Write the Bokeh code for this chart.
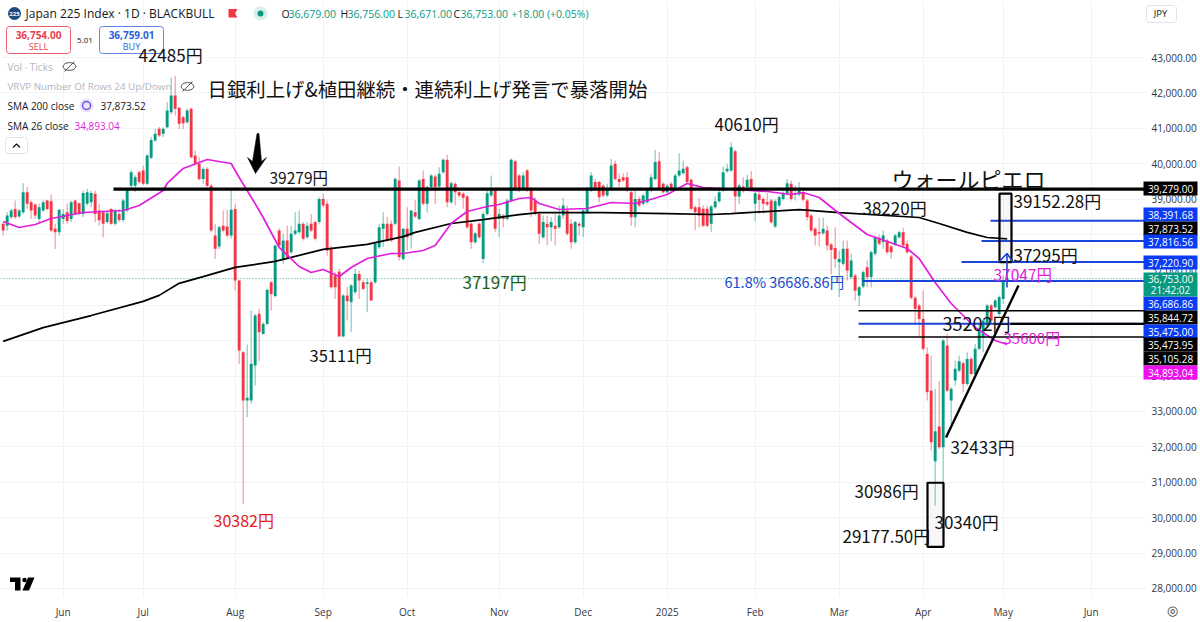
from bokeh.plotting import figure
from bokeh.embed import file_html
from bokeh.resources import INLINE
from bokeh.models import Range1d, FixedTicker, NumeralTickFormatter, Label, BoxAnnotation
from bokeh.core.properties import value

opens = [38300,38250,38490,38720,38510,38630,39195,38910,38850,38440,
38680,38960,38940,38160,38065,38440,38630,38440,38960,38880,
38580,38870,38910,39150,38680,38630,38350,38720,38300,38580,
38410,38680,39380,39380,39760,39810,39430,40165,40655,40985,
40845,41030,41455,41925,41580,41310,41170,41550,40230,39995,
39570,39850,39380,37970,37660,38250,38225,37970,38720,36700,
34675,33310,33310,34300,35760,35190,35475,36650,36260,38110,
37310,37830,37500,38020,38065,38300,37925,38300,38350,38350,
39005,38865,37595,36840,36950,35120,36275,36090,36370,36885,
36650,36605,36650,36650,37640,38160,38300,38300,38300,39525,
37310,38160,37970,38630,38440,39570,38865,39340,39640,39355,
39760,40110,38910,39430,39195,39150,39070,38300,37780,38300,
37310,38580,39100,39240,38440,38535,38440,38960,40070,39665,
39290,39805,39290,38960,38580,37925,38300,38205,38250,38205,
38535,38680,38300,37780,38300,38205,38630,39240,39480,39480,
39380,39100,39290,39995,39570,39620,39620,39195,38490,39005,
38865,38910,39240,39570,40070,39430,39195,39430,39290,39665,
39730,39900,39545,38770,38770,38725,38725,38300,38770,38940,
39240,39790,39810,40355,39075,39355,39335,39570,38865,39130,
39005,38915,38960,38225,38820,39005,39150,39430,39130,39130,
39195,38960,38535,38160,38065,38035,38110,37715,37620,37215,
37170,37595,36795,36840,36275,36530,37075,36795,37455,37905,
37785,37830,37660,37715,37925,38065,37735,37380,36210,35995,
35615,34625,33590,31595,32575,31990,34860,33310,33875,34155,
34365,33780,34485,34060,34770,35100,35430,35995,35945,35755,
36180,36679]
highs = [38350,38630,38720,38960,38720,39450,39340,38960,38880,38870,
38960,38980,39130,38300,38725,38720,38870,38960,38980,38900,
39240,39290,39240,39240,38870,38680,38680,38750,38720,38720,
39010,39290,39810,39670,39810,39950,40280,40750,40985,41040,
41030,41740,42440,42485,41600,41360,41550,41580,40370,40185,
39900,39900,39430,38300,38250,38680,38700,39240,38870,36720,
34700,34890,35850,35760,35900,35520,36465,36680,37700,38170,
38020,38250,38250,38630,38680,38350,38350,38580,38400,39050,
39150,38960,37690,36935,37030,36320,36510,36600,37030,36980,
36720,36745,36700,37780,38300,38630,38490,38400,39620,39920,
38170,38770,38680,38980,39570,39810,39380,39700,39690,39900,
40150,40250,39500,39480,39240,39195,39120,38350,38065,38350,
38630,39240,39665,39290,38725,38580,39010,40150,40110,39710,
39760,39850,39340,39050,38630,38535,38535,38490,38580,38820,
39035,38820,38440,38395,38350,38725,39355,39760,39570,39525,
39430,39430,40135,40090,39715,39730,39760,39240,39240,39070,
39150,39290,39715,40390,40325,39480,39430,39480,39715,40295,
40090,39950,39590,38820,39035,38820,38820,38840,39075,39320,
39920,39995,40610,40400,39430,39620,39695,39790,39215,39240,
39050,39165,39005,38990,39100,39215,39570,39525,39385,39480,
39240,39005,38580,38205,38470,38470,38255,37765,38205,37545,
37830,37830,37450,36890,36560,36980,37265,37545,37970,38000,
38110,37880,37710,38020,38110,38190,37830,37430,36260,36040,
36415,34815,34580,33640,33855,35050,35190,33685,34440,34580,
34410,34675,34530,34910,35475,35620,36040,36040,36180,36275,
36840,36756]
lows = [37970,38110,38440,38440,38470,38580,38720,38440,38440,38300,
38630,38680,38065,37590,37970,38300,38300,38350,38535,38540,
38490,38820,38770,38350,38250,37920,38300,38280,38250,38350,
38350,38630,39290,39195,39430,39400,39400,40130,40610,40750,
40750,41000,41400,41360,40980,40980,41125,40150,39950,39520,
39430,39340,38060,37310,37590,38060,37920,37880,36415,34345,
30382,32840,33215,33735,34420,35170,35430,35850,36230,37640,
37170,37310,37450,37970,38020,37830,37880,38065,37830,38300,
38770,37405,36465,36180,35111,35100,35570,35240,36320,36180,
36415,35805,36130,36600,37590,37640,37780,37780,38250,37265,
37260,37545,37595,38460,38395,38820,38620,39290,38860,39310,
39715,38770,38865,38820,39050,38725,38160,37595,37735,37875,
37197,38535,39050,38065,37925,38205,38395,38910,39240,39195,
39240,39195,38490,38535,37735,37875,37690,37810,37690,38160,
38440,37970,37595,37735,37970,37925,38580,39195,39240,38910,
39050,39050,39240,39525,39335,39480,39195,38250,38205,38770,
38820,38865,39195,39525,39240,39150,39150,39240,39240,39620,
39690,39430,38680,38130,38205,38205,38205,38065,38725,38895,
39195,39740,39760,38630,38865,39180,39290,39240,38375,38585,
38585,38800,38300,38180,38770,38960,39100,38960,38960,39080,
38930,38395,38065,37690,37660,37990,37545,36870,37055,36230,
37120,36700,36750,36135,35965,36480,36510,36510,37405,37690,
37595,37455,37310,37670,37880,37640,37455,36165,35475,35100,
34720,33310,31895,30340,31940,30986,33545,32650,33730,34110,
33545,33730,34015,34015,34720,34675,35380,35520,35900,35710,
36040,36671]
closes = [38110,38540,38680,38490,38680,39195,38870,38680,38540,38770,
38910,38720,38110,38065,38700,38580,38380,38910,38580,38580,
39170,39195,39170,38580,38400,38300,38600,38300,38680,38410,
38960,39240,39760,39620,39480,39430,40230,40670,40845,40800,
40985,41500,41925,41550,41125,41140,41500,40185,39995,39570,
39850,39380,38110,37595,38205,38110,37970,38700,36700,34720,
33310,33385,34345,35710,35240,35475,36435,36320,37690,37690,
37830,37360,38020,38110,38300,37880,38250,38110,37880,39005,
38820,37550,36510,36510,35120,36275,36115,36560,36885,36700,
36465,36650,36135,37735,38205,38300,37830,37830,39570,37360,
38160,37925,38680,38510,39525,38865,39340,39670,39340,39715,
40110,38910,39450,39195,39100,39035,38205,37780,38035,37925,
38580,39165,39240,38160,38580,38440,38960,40110,39290,39290,
39665,39240,38680,38580,38020,38350,38205,38350,38160,38535,
38820,38020,37780,38350,38250,38680,39290,39665,39290,39050,
39100,39290,39950,39570,39480,39525,39240,38490,39005,38820,
39100,39240,39620,40045,39290,39195,39380,39290,39665,39805,
39855,39480,38725,38630,38535,38250,38250,38790,38940,39195,
39760,39855,40465,39075,39385,39225,39545,39290,39165,38980,
38865,38850,38345,38940,39055,39165,39450,39005,39165,39240,
38980,38490,38110,37970,38020,38160,37690,37565,37310,37310,
37595,36980,37265,36415,36510,36935,36795,37500,37925,37735,
37970,37500,37500,37970,38065,37690,37500,36210,35900,35615,
34770,33545,32130,32440,31990,35005,33590,33640,34205,34420,
33780,34485,34060,34770,35285,35570,35995,35570,36135,36230,
36680,36753]

sma200_bar = [0,10,22,35,39,44,50,58,68,80,91,100,103,112,120,129,134,150,166,177,182,199,209,229,234,241,246,251]
sma200_val = [34980,35370,35710,36110,36280,36620,36810,37070,37240,37580,37720,37940,38060,38310,38420,38560,38620,38620,38590,38565,38590,38700,38620,38480,38310,38060,37915,37873.52]
sma26_bar = [0,4,8,12,20,30,34,40,41,45,51,57,59,61,64,65,69,74,77,80,84,87,91,97,100,105,108,112,116,121,124,129,132,134,139,146,152,158,161,166,171,175,183,191,197,200,204,209,216,226,229,233,237,243,248,251]
sma26_val = [38367,38198,38282,38452,38621,38678,38819,39243,39441,39865,40119,40006,39610,39243,38678,38480,37633,37096,36926,37011,36813,37068,37322,37463,37463,37548,37689,38311,38650,38791,38847,39017,39045,38876,38706,38734,38904,38876,38960,39130,39440,39328,39272,39215,39130,39186,39045,38593,38000,37604,37322,36644,36050,35372,35005,34893.04]

month_bars = [15,35,58,80,101,124,145,166,188,209,230,250,272]
month_labels = ["Jun","Jul","Aug","Sep","Oct","Nov","Dec","2025","Feb","Mar","Apr","May","Jun"]
price_ticks = list(range(28000, 44000, 1000))

level_prices = [38391.68,37816.56,37220.90,36686.86,35475.00,35844.72,35473.95,35105.28]
level_start_px = [990,981,961,862,858,858,1010,858]
level_colors = ["#1a45d8"]*5 + ["#000000"]*3
level_widths = [2,2,2,2,2,1.6,2.4,1.6]

tag_text = ["39,279.00","38,391.68","37,873.52","37,816.56","37,220.90","36,686.86","35,844.72","35,475.00","35,473.95","35,105.28","34,893.04"]
tag_bg = ["#000000","#0a3cf5","#000000","#0a3cf5","#0a3cf5","#0a3cf5","#000000","#0a3cf5","#000000","#000000","#ee10ee"]
tag_py = [188,214,228,241,262,303,317,331,344,358,372]

notes = ["42485円","日銀利上げ&植田継続・連続利上げ発言で暴落開始","39279円","40610円","35111円","37197円","30382円","61.8% 36686.86円","38220円","ウォールピエロ","39152.28円","37295円","37047円","35202円","35600円","32433円","30986円","30340円","29177.50円"]
note_px = [138,207,269,714,309,462,213,724,862,891,1013,1013,993,942,1003,950,854,934,842]
note_py = [54,88,176,123,354,281,519,281,207,177,200,254,273,322,337,446,490,521,535]
note_size = ["17px","19.4px","15.5px","17px","16.5px","17px","16px","14.5px","17px","22px","17px","17px","15.5px","18px","15px","17px","17px","17px","17px"]
note_color = ["#111111","#111111","#111111","#111111","#111111","#1b5e20","#e01b24","#1848cc","#111111","#111111","#111111","#111111","#e020d8","#111111","#e020d8","#111111","#111111","#111111","#111111"]

def bar_at(px):
    return (px - 2.67) / 4.0
def price_at(py):
    return 43000 - (py - 57) * 28.25

UI = "Open Sans"
PANE_R = 1145
PANE_B = 597
p = figure(width=1200, height=622, output_backend="svg", toolbar_location=None,
           x_range=Range1d(bar_at(0), bar_at(1200)), y_range=Range1d(price_at(622), price_at(0)),
           y_axis_location="right", min_border_left=0, min_border_top=0, min_border_right=0, min_border_bottom=0,
           background_fill_color="#ffffff", outline_line_color=None)
p.xaxis.ticker = FixedTicker(ticks=month_bars)
p.xaxis.major_label_overrides = dict(zip(month_bars, month_labels))
p.yaxis.ticker = FixedTicker(ticks=price_ticks)
p.yaxis.formatter = NumeralTickFormatter(format="0,0.00")
p.xaxis[0].fixed_location = price_at(PANE_B)
p.yaxis[0].fixed_location = bar_at(PANE_R)
for ax in (p.xaxis[0], p.yaxis[0]):
    ax.axis_line_color = None
    ax.major_tick_line_color = None
    ax.minor_tick_line_color = None
    ax.major_tick_in = 0
    ax.major_tick_out = 0
    ax.minor_tick_in = 0
    ax.minor_tick_out = 0
    ax.major_label_text_font = UI
    ax.major_label_text_font_size = "10px"
    ax.major_label_text_color = "#33363f"
p.xaxis.major_label_standoff = 7
p.yaxis.major_label_standoff = 6
p.xgrid.grid_line_color = "#f0f3f8"
p.ygrid.grid_line_color = "#f0f3f8"

# white scale strips over the grid
p.quad(left=[bar_at(PANE_R), bar_at(0)], right=[bar_at(1200), bar_at(1200)], top=[price_at(0), price_at(PANE_B)],
       bottom=[price_at(622), price_at(622)], fill_color="#ffffff", line_color=None)

bars = list(range(len(closes)))
up = [c >= o for o, c in zip(opens, closes)]
cols = ["#089981" if u else "#f23645" for u in up]
p.segment(bars, lows, bars, highs, line_color=cols, line_width=1, line_alpha=0.6)
p.vbar(x=bars, top=[max(o, c) for o, c in zip(opens, closes)], bottom=[min(o, c) for o, c in zip(opens, closes)],
       width=0.72, fill_color=cols, line_color=None)

p.segment([bar_at(0)], [closes[-1]], [bar_at(PANE_R)], [closes[-1]], line_color="#089981", line_dash="1 2", line_width=1, line_alpha=0.8)

p.line(sma200_bar, sma200_val, line_color="#000000", line_width=1.7)
p.line(sma26_bar, sma26_val, line_color="#e01fdc", line_width=1.7)

p.segment([bar_at(113)], [39279], [bar_at(PANE_R)], [39279], line_color="#000000", line_width=3.2)
p.segment([bar_at(x) for x in level_start_px], level_prices, [bar_at(PANE_R)] * len(level_prices), level_prices,
          line_color=level_colors, line_width=level_widths)

box_left = [bar_at(999), bar_at(927)]
box_right = [bar_at(1011), bar_at(943)]
box_top = [39152.28, 30986]
box_bottom = [37220.90, 29177.50]
p.quad(left=box_left, right=box_right, top=box_top, bottom=box_bottom, fill_color="#9598a1", fill_alpha=0.08,
       line_color="#000000", line_width=2.2)

p.segment([bar_at(945.5)], [price_at(437)], [bar_at(1018)], [price_at(285)], line_color="#000000", line_width=2.4)

# blue arrow
p.line([bar_at(1006.5)] * 2, [price_at(287), price_at(253)], line_color="#1a45d8", line_width=1.6)
p.line([bar_at(998), bar_at(1006.5), bar_at(1013)], [price_at(262), price_at(253), price_at(262)], line_color="#1a45d8", line_width=1.6)

# black down arrow
arrow_px = [256.5, 258.5, 261, 266, 255, 247, 252]
arrow_py = [133, 133, 161, 157, 173, 157, 161]
p.patch([bar_at(x) for x in arrow_px], [price_at(y) for y in arrow_py], fill_color="#000000", line_color="#000000", line_width=0.5)

# annotation texts
p.text([bar_at(x) for x in note_px], [price_at(y) for y in note_py], text=notes, text_font=value("Noto Sans CJK JP"),
       text_font_size=note_size, text_color=note_color, text_align="left", text_baseline="middle", level="overlay")

def label(text, px, py, size="10px", color="#131722", align="left", font=UI, style="normal"):
    p.add_layout(Label(x=bar_at(px), y=price_at(py), text=text, text_font_size=size, text_color=color,
                       text_align=align, text_baseline="middle", text_font=font, text_font_style=style))

def box(left, right, top, bottom, fill, line=None, radius=0):
    p.add_layout(BoxAnnotation(left=bar_at(left), right=bar_at(right), top=price_at(top), bottom=price_at(bottom),
                               fill_color=fill, fill_alpha=1.0, line_color=line, line_alpha=1.0 if line else 0,
                               line_width=1, border_radius=radius, level="annotation"))

# price tags on the axis
for t, bg, y in zip(tag_text, tag_bg, tag_py):
    box(1143, 1197, y - 7, y + 7, bg)
    label(t, 1170, y, size="10px", color="#ffffff", align="center")
box(1143, 1197, 272, 296, "#089981")
label("36,753.00", 1170, 278, size="10px", color="#ffffff", align="center")
label("21:42:02", 1170, 289.5, size="10px", color="#ffffff", align="center")

# header
p.scatter([bar_at(14)], [price_at(13)], size=13, marker="circle", fill_color="#1e4a7c", line_color=None)
label("225", 14, 13.5, size="6px", color="#ffffff", align="center", style="bold")
label("Japan 225 Index · 1D · BLACKBULL", 25, 13, size="12px")
p.patch([bar_at(x) for x in (228, 237, 234.5, 237, 228)], [price_at(y) for y in (8.5, 8.5, 13, 17, 17)], fill_color="#f23645", line_color=None)
p.scatter([bar_at(260)], [price_at(13)], size=14, marker="circle", fill_color="#d7f0ea", line_color=None)
p.scatter([bar_at(260)], [price_at(13)], size=6, marker="circle", fill_color="#089981", line_color=None)
ohlc_name = ["O", "H", "L", "C"]
ohlc_text = ["36,679.00", "36,756.00", "36,671.00", "36,753.00"]
ohlc_x = [281, 340, 397, 453]
for n, t, x in zip(ohlc_name, ohlc_text, ohlc_x):
    label(n, x, 13, size="10.5px")
    label(t, x + 7, 13, size="10.5px", color="#089981")
label("+18.00 (+0.05%)", 511, 13, size="10.5px", color="#089981")

box(6, 70, 26, 53, "#ffffff", line="#e8606c", radius=3)
label("36,754.00", 38, 34.5, size="10px", color="#e8404f", align="center", style="bold")
label("SELL", 38, 46, size="9px", color="#e8404f", align="center")
label("5.01", 84.5, 40, size="8px", align="center")
box(99, 163, 26, 53, "#ffffff", line="#5f86e8", radius=3)
label("36,759.01", 131, 34.5, size="10px", color="#2a62d8", align="center", style="bold")
label("BUY", 131, 46, size="9px", color="#2a62d8", align="center")

label("Vol · Ticks", 7, 66.5, size="10px", color="#b2b5be")
label("VRVP Number Of Rows 24 Up/Down", 7, 86, size="9.8px", color="#b2b5be")
label("SMA 200 close", 7, 105.5, size="10px")
label("37,873.52", 100, 105.5, size="10px")
label("SMA 26 close", 7, 125, size="10px")
label("34,893.04", 74, 125, size="10px", color="#e01fdc")
for ex, ey in ((69, 66), (187, 86)):
    p.ellipse([bar_at(ex)], [price_at(ey)], width=3.2, height=220, fill_color=None, line_color="#555555", line_width=1)
    p.segment([bar_at(ex - 5)], [price_at(ey + 5)], [bar_at(ex + 5)], [price_at(ey - 5)], line_color="#555555", line_width=1)
p.scatter([bar_at(86)], [price_at(105)], size=14, marker="circle", fill_color="#e9e3fb", line_color=None)
p.scatter([bar_at(86)], [price_at(105)], size=8, marker="circle", fill_color=None, line_color="#6f4fe8", line_width=1.5)
box(5, 27, 137, 153, "#ffffff", line="#e0e3eb", radius=3)
p.line([bar_at(12.5), bar_at(16), bar_at(19.5)], [price_at(147), price_at(143.5), price_at(147)], line_color="#131722", line_width=1.2, level="overlay")

box(1146, 1176, 5, 22, "#ffffff", line="#e0e3eb", radius=3)
label("JPY", 1160, 13, size="9.5px", align="center")

# logo
p.patch([bar_at(x) for x in (9.5, 20, 20, 14.5, 14.5, 9.5)], [price_at(y) for y in (577, 577, 590, 590, 581.5, 581.5)], fill_color="#000000", line_color=None)
p.patch([bar_at(x) for x in (27.5, 34, 28.5, 22)], [price_at(y) for y in (577, 577, 590, 590)], fill_color="#000000", line_color=None)
p.scatter([bar_at(24)], [price_at(579.5)], size=4.5, marker="circle", fill_color="#000000", line_color=None)

label("◎", 1172, 610, size="13px", color="#33363f", align="center", font="DejaVu Sans")

open("out.html", "w").write(file_html(p, INLINE))
